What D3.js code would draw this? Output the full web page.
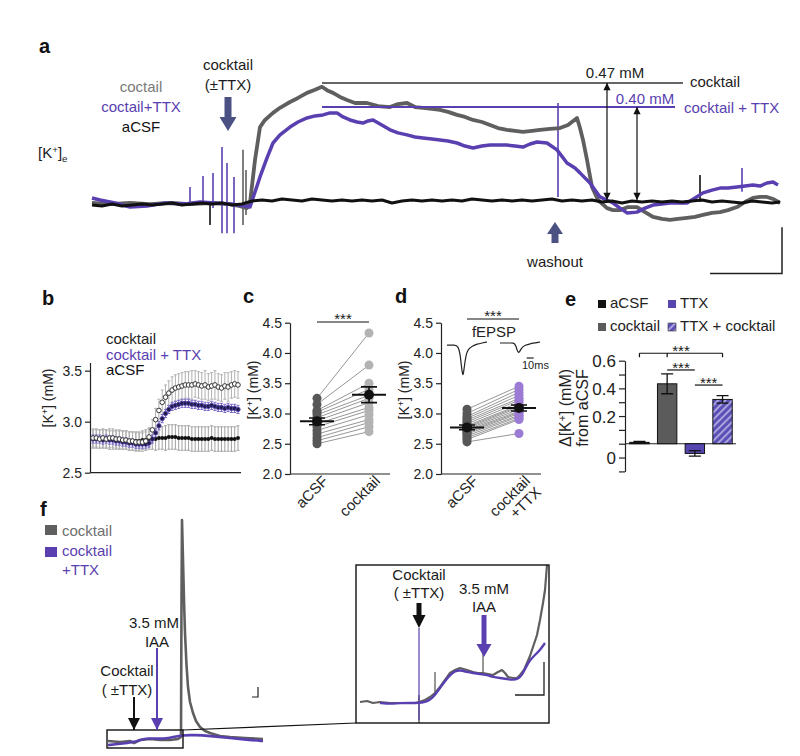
<!DOCTYPE html>
<html>
<head>
<meta charset="utf-8">
<script src="https://cdn.jsdelivr.net/npm/d3@7/dist/d3.min.js"></script>
<style>
 html,body{margin:0;padding:0;background:#fff;}
 svg{display:block;font-family:"Liberation Sans",Arial,Helvetica,sans-serif;}
</style>
</head>
<body>
<svg id="fig" width="800" height="756" viewBox="0 0 800 756"></svg>
<script>
// ================= DATA =================
// Panel a : extracellular [K+] traces (time s, Δ[K+] in mM relative to baseline)
const aTimeCocktail = [0,18,38,58,78,98,118,138,148,155,158,163,168,173,181,188,198,206,215,223,230,236,241,248,255,263,275,286,298,306,315,323,331,340,348,356,365,373,381,390,398,406,415,423,431,440,448,458,468,476,485,488,491,495,500,506,515,521,528,536,545,553,561,570,578,586,595,603,611,620,628,636,645,653,661,668,675,681,688];
const aCocktail = [-0.004,-0.008,-0.004,-0.008,-0.004,-0.008,-0.004,-0.008,-0.016,-0.024,-0.004,0.166,0.296,0.324,0.352,0.372,0.395,0.411,0.431,0.443,0.455,0.439,0.431,0.415,0.403,0.391,0.391,0.379,0.375,0.387,0.391,0.375,0.372,0.368,0.364,0.356,0.344,0.336,0.324,0.316,0.304,0.292,0.285,0.281,0.277,0.281,0.285,0.289,0.292,0.304,0.332,0.292,0.245,0.166,0.059,0.008,-0.024,-0.032,-0.032,-0.020,-0.020,-0.040,-0.059,-0.067,-0.071,-0.067,-0.063,-0.059,-0.051,-0.043,-0.040,-0.032,-0.020,0,0.016,0.020,0.020,0.012,-0.004];
const aTimeTTX = [0,8,23,38,55,73,93,108,123,138,153,158,168,175,181,188,198,206,215,223,231,238,245,251,258,265,271,276,281,288,298,306,315,323,331,340,348,356,365,373,381,390,398,406,415,423,431,438,445,455,465,475,483,488,498,508,521,528,535,545,553,561,570,578,588,595,603,611,620,628,636,645,653,661,668,675,681,686];
const aTTX = [0.016,0.008,-0.004,-0.020,-0.016,-0.004,-0.008,0,-0.004,-0.008,-0.016,-0.020,0.099,0.174,0.233,0.265,0.296,0.316,0.332,0.340,0.344,0.352,0.352,0.336,0.324,0.316,0.312,0.320,0.324,0.308,0.285,0.273,0.265,0.257,0.253,0.249,0.245,0.241,0.233,0.221,0.213,0.221,0.225,0.225,0.225,0.221,0.217,0.229,0.237,0.233,0.206,0.154,0.134,0.115,0.075,0.020,-0.004,-0.024,-0.043,-0.040,-0.024,-0.012,-0.008,-0.004,-0.004,-0.004,0.016,0.036,0.047,0.055,0.055,0.059,0.063,0.067,0.063,0.075,0.079,0.067];
const aTimeACSF = [0,10,20,30,40,50,60,70,80,90,100,110,120,130,140,150,160,170,180,190,200,210,220,230,240,250,260,270,280,290,300,310,320,330,340,350,360,370,380,390,400,410,420,430,440,450,460,470,480,490,500,510,520,530,540,550,560,570,580,590,600,610,620,630,640,650,660,670,680,688];
const aACSF = [-0.012,-0.016,-0.008,-0.016,-0.012,-0.008,-0.012,-0.008,-0.004,-0.012,-0.008,-0.004,-0.008,-0.004,-0.012,-0.008,0.004,0.008,0.004,0.012,0.008,0.004,0.012,0.008,0.004,0.008,0.004,0.008,0.004,0.008,-0.004,0.004,0.008,0.004,0.008,0.004,0.008,0.004,0.012,0.008,0.004,0.008,0.004,0.008,0.004,0.008,0.012,0.004,0.008,0.004,0.008,0,0.004,-0.004,0.004,0,0.004,0,0.004,0,0.004,0.008,0,0.004,0,-0.004,0.004,0,-0.004,0];
const aSpikeTime   = [98,111,121,130,135,142,466,650,151,154,118,608];
const aSpikeTop    = [0.059,0.103,0.115,0.217,0.154,0.099,0.391,0.134,0.206,0.126,0,0.107];
const aSpikeBottom = [-0.012,-0.012,-0.024,-0.123,-0.123,-0.123,0.02,0.04,-0.091,-0.051,-0.091,0];
const aSpikeSeries = ["ttx","ttx","ttx","ttx","ttx","ttx","ttx","ttx","cocktail","cocktail","acsf","acsf"];
const aPeakValues = [0.47, 0.375];           // reference lines (cocktail, cocktail+TTX)
const aPeakLabels = ["0.47 mM", "0.40 mM"];
const aEventTimes = [136, 463];              // cocktail (±TTX) application, washout

// Panel b : time course of [K+] (mM), mean ± SEM
const bCocktail = [2.84,2.84,2.83,2.84,2.83,2.84,2.84,2.83,2.83,2.82,2.82,2.81,2.81,2.80,2.80,2.80,2.81,2.85,2.92,3.02,3.11,3.19,3.24,3.28,3.31,3.33,3.34,3.35,3.36,3.36,3.36,3.37,3.36,3.35,3.36,3.34,3.35,3.36,3.34,3.33,3.35,3.34,3.36,3.37,3.36];
const bCocktailErr = [0.09,0.09,0.09,0.09,0.09,0.09,0.09,0.09,0.09,0.09,0.09,0.09,0.09,0.09,0.09,0.09,0.09,0.09,0.10,0.11,0.11,0.12,0.12,0.12,0.13,0.13,0.13,0.13,0.13,0.13,0.14,0.13,0.13,0.13,0.14,0.13,0.13,0.14,0.13,0.13,0.13,0.14,0.13,0.13,0.13];
const bTTX = [2.83,2.83,2.83,2.82,2.83,2.82,2.82,2.81,2.81,2.80,2.80,2.79,2.79,2.78,2.78,2.78,2.78,2.79,2.83,2.89,2.96,3.03,3.08,3.12,3.15,3.16,3.17,3.18,3.18,3.18,3.17,3.17,3.16,3.16,3.15,3.15,3.16,3.15,3.14,3.14,3.13,3.14,3.13,3.13,3.12];
const bTTXErr = [0.04,0.04,0.04,0.04,0.04,0.04,0.04,0.04,0.04,0.04,0.04,0.04,0.04,0.04,0.04,0.04,0.04,0.04,0.04,0.04,0.04,0.04,0.04,0.04,0.04,0.04,0.04,0.04,0.04,0.04,0.04,0.04,0.04,0.04,0.04,0.04,0.04,0.04,0.04,0.04,0.04,0.04,0.04,0.04,0.04];
const bACSF = [2.83,2.83,2.83,2.83,2.83,2.82,2.82,2.82,2.82,2.82,2.82,2.81,2.81,2.81,2.81,2.82,2.82,2.83,2.83,2.83,2.84,2.84,2.84,2.85,2.85,2.85,2.84,2.84,2.84,2.84,2.83,2.83,2.83,2.83,2.83,2.83,2.84,2.83,2.83,2.83,2.83,2.83,2.83,2.83,2.84];
const bACSFErr = [0.09,0.09,0.09,0.09,0.09,0.09,0.09,0.09,0.09,0.09,0.09,0.09,0.09,0.09,0.09,0.09,0.10,0.10,0.10,0.11,0.11,0.11,0.12,0.12,0.12,0.12,0.12,0.12,0.12,0.12,0.12,0.12,0.12,0.12,0.12,0.12,0.12,0.12,0.12,0.12,0.12,0.12,0.12,0.12,0.12];
const bTicks = [2.5, 3.0, 3.5];

// Panel c : paired [K+] (mM)
const cCategories = ["aCSF", "cocktail"];
const cACSF     = [3.25,3.15,3.05,3.02,2.98,2.93,2.88,2.83,2.78,2.72,2.66,2.60,2.55,2.50];
const cCocktail = [4.33,3.80,3.50,3.40,3.30,3.25,3.18,3.10,3.05,2.98,2.90,2.85,2.78,2.70];
const cMean = [2.87, 3.31];
const cSem  = [0.055, 0.13];
const cdTicks = [2.0, 2.5, 3.0, 3.5, 4.0, 4.5];

// Panel d : paired [K+] (mM) with TTX
const dCategories = ["aCSF", "cocktail+TTX"];
const dACSF = [3.07,3.00,2.95,2.92,2.89,2.86,2.83,2.80,2.78,2.76,2.74,2.72,2.70,2.68,2.66,2.63,2.60,2.57,2.53];
const dTTX  = [3.45,3.40,3.35,3.30,3.25,3.22,3.18,3.14,3.12,3.10,3.07,3.04,3.02,3.00,2.97,2.95,2.92,2.90,2.67];
const dMean = [2.77, 3.09];
const dSem  = [0.04, 0.05];
// fEPSP insets (ms, mV)
const fepspTime = [0,11,16,19,21,23,24,27,30,36,43,50,57];
const fepspACSF = [-0.06,-0.06,-0.09,-0.35,-0.79,-1.0,-0.79,-0.35,-0.18,-0.09,-0.03,0,0.03];
const fepspTTX  = [0,0,0,0,-0.03,-0.1,-0.2,-0.32,-0.15,-0.06,-0.02,0,0.03];

// Panel e : Δ[K+] from aCSF (mM)
const eCategories = ["aCSF", "cocktail", "TTX", "TTX + cocktail"];
const eMean = [0.01, 0.433, -0.07, 0.32];
const eSem  = [0.006, 0.072, 0.02, 0.027];
const eTicks = [-0.2,-0.1,0,0.1,0.2,0.3,0.4,0.5,0.6];
const eTickLabels = ["","0","","","0.2","","0.4","","0.6"];

// Panel f : long recording (arbitrary time / [K+] units)
const fTimeCocktail = [0,12,22,26,32,42,52,62,70,73,73.5,74,76,77,78.5,80,82,85,88,92,97,102,112,122,137,155];
const fCocktail = [0.1,0,0.1,-0.1,0.2,0.3,0.2,0.2,0.3,0.5,14.2,22.2,14.2,10.9,7.7,5.5,4.0,2.9,2.1,1.5,1.1,0.9,0.6,0.5,0.4,0.3];
const fTimeTTX = [0,12,26,32,40,50,62,74,87,102,122,142,155];
const fTTX = [-0.3,-0.2,0,0.2,0.4,0.3,0.4,0.7,0.7,0.6,0.4,0.2,0.1];
const fEventTimes = [26, 49];
// Panel f inset (zoomed start of recording)
const fInTimeCocktail = [4,11,17,24,34,44,51,59,63,69,74,79,84,89,94,99,104,111,117,122,127,132,137,142,146,149,152,157,161,164,168,171,174,177,181,184,187,189,191];
const fInCocktail = [0.1,0.2,0,0.1,0,0,0,0,0.1,0.3,0.6,1.0,1.6,2.3,3.0,3.3,3.5,3.3,3.1,3.0,3.0,2.9,2.8,3.1,3.3,3.0,2.6,2.5,2.5,2.8,3.3,4.0,4.7,5.6,6.8,8.3,10.0,11.3,13.8];
const fInTimeTTX = [24,34,44,54,63,69,74,79,84,89,94,99,104,111,117,124,131,137,144,151,157,162,166,170,174,179,184,189];
const fInTTX = [0,-0.1,0,0,0,0.1,0.3,0.8,1.5,2.2,2.8,3.2,3.3,3.1,3.0,2.9,2.8,2.6,2.5,2.4,2.3,2.4,2.8,3.6,4.3,4.8,5.3,6.0];
const fInEventTimes = [63, 128];

// ================= DRAWING =================
const COL = {gray:"#5f5f5f", purple:"#5a3fb0", black:"#111", arrow:"#4b5283",
             lgray:"#b3b3b3", dgray:"#575757", lpurple:"#9c7bd4", txtGray:"#7a7a7a"};
const svg = d3.select("#fig");
svg.append("rect").attr("width",800).attr("height",756).attr("fill","#fff");
const defs = svg.append("defs");
function marker(id,color){
  defs.append("marker").attr("id",id).attr("viewBox","0 0 10 10").attr("refX",10).attr("refY",5)
    .attr("markerWidth",7).attr("markerHeight",6).attr("orient","auto-start-reverse")
    .append("path").attr("d","M0,0L10,5L0,10Z").attr("fill",color);
}
marker("hk","#111"); marker("hp",COL.purple);
const pat = defs.append("pattern").attr("id","hatch").attr("patternUnits","userSpaceOnUse")
  .attr("width",5).attr("height",5).attr("patternTransform","rotate(45)");
pat.append("rect").attr("width",5).attr("height",5).attr("fill","#5b50b6");
pat.append("rect").attr("width",2).attr("height",5).attr("fill","#aaa3de");

const zip = (t,v)=>t.map((x,i)=>[x,v[i]]);
function text(g,x,y,s,o={}){
  return g.append("text").attr("x",x).attr("y",y).text(s)
    .attr("font-size",o.size||15).attr("fill",o.color||"#1a1a1a")
    .attr("text-anchor",o.anchor||"start").attr("font-weight",o.weight||"normal");
}
function kText(sel, suffix, sub){
  sel.append("tspan").text("[K");
  sel.append("tspan").attr("dy",-5).attr("font-size","0.65em").text("+");
  sel.append("tspan").attr("dy",5).text("]"+(suffix||""));
  if(sub){ sel.append("tspan").attr("dy",4).attr("font-size","0.65em").text(sub); }
  return sel;
}
function blockArrow(g,x,y0,y1,color,sw,hw,hl){
  const dir = y1>y0?1:-1, yb = y1-dir*hl, p = d3.path();
  p.moveTo(x-sw/2,y0); p.lineTo(x+sw/2,y0); p.lineTo(x+sw/2,yb); p.lineTo(x+hw/2,yb);
  p.lineTo(x,y1); p.lineTo(x-hw/2,yb); p.lineTo(x-sw/2,yb); p.closePath();
  g.append("path").attr("d",p.toString()).attr("fill",color);
}
function styleAxis(g,size){
  g.selectAll("path.domain").attr("stroke","#222").attr("stroke-width",1.2);
  g.selectAll(".tick line").attr("stroke","#222").attr("stroke-width",1.2);
  g.selectAll(".tick text").attr("font-size",size||14).attr("fill","#222")
    .attr("font-family","'Liberation Sans',Arial,sans-serif");
}
function panelLetter(x,y,s){ text(svg,x,y,s,{size:20,weight:"bold",color:"#111"}); }

// ---------- Panel a ----------
{
  const g = svg.append("g");
  const x = d3.scaleLinear().domain([0,690]).range([92,782]);
  const y = d3.scaleLinear().domain([0,0.47]).range([202,83]);
  const line = d3.line().x(d=>x(d[0])).y(d=>y(d[1]));
  panelLetter(39,53,"a");
  text(g,141,92,"coctail",{anchor:"middle",color:COL.txtGray});
  text(g,141,112,"coctail+TTX",{anchor:"middle",color:COL.purple});
  text(g,141,132,"aCSF",{anchor:"middle",color:"#111"});
  text(g,x(aEventTimes[0]),70,"cocktail",{anchor:"middle"});
  text(g,x(aEventTimes[0]),90,"(±TTX)",{anchor:"middle"});
  kText(text(g,38,158,"",{}), "", "e");
  blockArrow(g,x(aEventTimes[0]),97,131,COL.arrow,7,17,14);
  // spikes
  const sc = {ttx:COL.purple, cocktail:COL.gray, acsf:"#111"};
  aSpikeTime.forEach((t,i)=>{
    g.append("line").attr("x1",x(t)).attr("x2",x(t)).attr("y1",y(aSpikeBottom[i])).attr("y2",y(aSpikeTop[i]))
      .attr("stroke",sc[aSpikeSeries[i]]).attr("stroke-width",1.6);
  });
  g.append("path").datum(zip(aTimeCocktail,aCocktail)).attr("d",line).attr("fill","none")
    .attr("stroke",COL.gray).attr("stroke-width",3.8).attr("stroke-linejoin","round");
  g.append("path").datum(zip(aTimeTTX,aTTX)).attr("d",line).attr("fill","none")
    .attr("stroke",COL.purple).attr("stroke-width",3.5).attr("stroke-linejoin","round");
  g.append("path").datum(zip(aTimeACSF,aACSF)).attr("d",line).attr("fill","none")
    .attr("stroke","#111").attr("stroke-width",3).attr("stroke-linejoin","round");
  // peak reference lines
  g.append("line").attr("x1",x(230)).attr("x2",x(591)).attr("y1",y(aPeakValues[0])).attr("y2",y(aPeakValues[0]))
    .attr("stroke","#666").attr("stroke-width",2.2);
  g.append("line").attr("x1",x(230)).attr("x2",x(583)).attr("y1",y(aPeakValues[1])).attr("y2",y(aPeakValues[1]))
    .attr("stroke",COL.purple).attr("stroke-width",2);
  text(g,x(523),78,aPeakLabels[0],{anchor:"middle",color:"#222"});
  text(g,x(598),87,"cocktail",{color:"#222"});
  text(g,x(553),104,aPeakLabels[1],{anchor:"middle",color:COL.purple});
  text(g,x(592),113,"cocktail + TTX",{color:COL.purple});
  // double arrows
  [[515,aPeakValues[0]],[545,aPeakValues[1]]].forEach(([t,v])=>{
    g.append("line").attr("x1",x(t)).attr("x2",x(t)).attr("y1",y(v)).attr("y2",y(0.008))
      .attr("stroke","#111").attr("stroke-width",1.2)
      .attr("marker-start","url(#hk)").attr("marker-end","url(#hk)");
  });
  // washout
  blockArrow(g,x(aEventTimes[1]),243,222,COL.arrow,7,16,12);
  text(g,x(aEventTimes[1]),267,"washout",{anchor:"middle"});
  // scale bar
  g.append("path").attr("d",`M${x(618)},${y(-0.282)}H${x(690)}V${y(-0.1)}`)
    .attr("fill","none").attr("stroke","#222").attr("stroke-width",1.5);
}

// ---------- Panel b ----------
{
  const g = svg.append("g");
  const x = d3.scaleLinear().domain([0,44]).range([93,238]);
  const y = d3.scaleLinear().domain([2.5,3.58]).range([472.7,362.5]);
  panelLetter(42,305,"b");
  text(g,106,344,"cocktail",{color:"#222"});
  text(g,106,359.5,"cocktail + TTX",{color:COL.purple});
  text(g,106,375,"aCSF",{color:"#111"});
  const ax = g.append("g").attr("transform","translate(90,0)")
    .call(d3.axisLeft(y).tickValues(bTicks).tickFormat(d3.format(".1f")).tickSize(5).tickSizeOuter(0));
  styleAxis(ax,14);
  g.append("line").attr("x1",90).attr("x2",241).attr("y1",y(2.5)).attr("y2",y(2.5)).attr("stroke","#222").attr("stroke-width",1.2);
  kText(g.append("text").attr("transform","translate(53,398) rotate(-90)").attr("text-anchor","middle")
    .attr("font-size",14).attr("fill","#222"), " (mM)");
  function errs(vals,err,color){
    vals.forEach((v,i)=>{
      const xi=x(i);
      g.append("path").attr("d",`M${xi},${y(v-err[i])}V${y(v+err[i])}M${xi-1.5},${y(v+err[i])}H${xi+1.5}M${xi-1.5},${y(v-err[i])}H${xi+1.5}`)
        .attr("stroke",color).attr("stroke-width",1).attr("fill","none");
    });
  }
  errs(bACSF,bACSFErr,"#a0a0a0");
  errs(bCocktail,bCocktailErr,"#b0b0b0");
  errs(bTTX,bTTXErr,"#7b68c8");
  g.selectAll(null).data(bACSF).enter().append("circle").attr("cx",(d,i)=>x(i)).attr("cy",d=>y(d))
    .attr("r",2).attr("fill","#111");
  g.selectAll(null).data(bTTX).enter().append("circle").attr("cx",(d,i)=>x(i)).attr("cy",d=>y(d))
    .attr("r",2.2).attr("fill","#1e1c4e").attr("stroke","#5a48b0").attr("stroke-width",0.8);
  g.selectAll(null).data(bCocktail).enter().append("circle").attr("cx",(d,i)=>x(i)).attr("cy",d=>y(d))
    .attr("r",2.3).attr("fill","#fff").attr("stroke","#333").attr("stroke-width",1);
}

// ---------- Panels c & d ----------
const cdY = d3.scaleLinear().domain([2.0,4.5]).range([474,322.7]);
function pairedPanel(o){
  const g = svg.append("g");
  const x = d3.scalePoint().domain(o.cats).range(o.xr);
  const ax = g.append("g").attr("transform",`translate(${o.axisX},0)`)
    .call(d3.axisLeft(cdY).tickValues(cdTicks).tickFormat(d3.format(".1f")).tickSize(5).tickSizeOuter(0));
  styleAxis(ax,14);
  g.append("line").attr("x1",o.axisX).attr("x2",o.axisX+100).attr("y1",cdY(2)).attr("y2",cdY(2)).attr("stroke","#222").attr("stroke-width",1.2);
  kText(g.append("text").attr("transform",`translate(${o.axisX-32},390) rotate(-90)`).attr("text-anchor","middle")
    .attr("font-size",14).attr("fill","#222"), " (mM)");
  const x0=x(o.cats[0]), x1=x(o.cats[1]);
  o.a.forEach((v,i)=>{
    g.append("line").attr("x1",x0).attr("x2",x1).attr("y1",cdY(v)).attr("y2",cdY(o.b[i]))
      .attr("stroke","#8a8a8a").attr("stroke-width",0.9);
  });
  g.selectAll(null).data(o.a).enter().append("circle").attr("cx",x0).attr("cy",d=>cdY(d)).attr("r",4.5).attr("fill",COL.dgray);
  g.selectAll(null).data(o.b).enter().append("circle").attr("cx",x1).attr("cy",d=>cdY(d)).attr("r",4.5).attr("fill",o.bColor);
  o.mean.forEach((m,i)=>{
    const cx = x(o.cats[i]);
    g.append("line").attr("x1",cx-17).attr("x2",cx+17).attr("y1",cdY(m)).attr("y2",cdY(m)).attr("stroke","#111").attr("stroke-width",2);
    g.append("path").attr("d",`M${cx},${cdY(m-o.sem[i])}V${cdY(m+o.sem[i])}M${cx-8},${cdY(m-o.sem[i])}H${cx+8}M${cx-8},${cdY(m+o.sem[i])}H${cx+8}`)
      .attr("stroke","#111").attr("stroke-width",1.6).attr("fill","none");
    g.append("circle").attr("cx",cx).attr("cy",cdY(m)).attr("r",5).attr("fill","#111");
  });
  // significance
  g.append("line").attr("x1",x0).attr("x2",x1).attr("y1",o.sigY).attr("y2",o.sigY).attr("stroke","#111").attr("stroke-width",1.2);
  text(g,(x0+x1)/2,o.sigY+2,"***",{anchor:"middle",size:15});
  // x labels
  o.labels.forEach((lab,i)=>{
    const cx = x(o.cats[i]);
    const t = g.append("text").attr("transform",`translate(${cx+12},482) rotate(-45)`).attr("text-anchor","end")
      .attr("font-size",15).attr("fill","#222");
    lab.forEach((s,k)=>t.append("tspan").attr("x",0).attr("dy",k===0?0:"1.05em").text(s));
  });
  return {g,x};
}
panelLetter(243,303,"c");
pairedPanel({cats:cCategories, xr:[317,369], axisX:290, a:cACSF, b:cCocktail, bColor:COL.lgray,
             mean:cMean, sem:cSem, sigY:322, labels:[["aCSF"],["cocktail"]]});
panelLetter(395,303,"d");
{
  const r = pairedPanel({cats:dCategories, xr:[467,519], axisX:441, a:dACSF, b:dTTX, bColor:COL.lpurple,
             mean:dMean, sem:dSem, sigY:319, labels:[["aCSF"],["cocktail","+TTX"]]});
  const g = r.g;
  text(g,494,337,"fEPSP",{anchor:"middle",size:15,color:"#222"});
  const fy = d3.scaleLinear().domain([-1,0]).range([377,343]);
  const fx1 = d3.scaleLinear().domain([0,57]).range([447,487]);
  const fx2 = d3.scaleLinear().domain([0,57]).range([500,540]);
  g.append("path").datum(zip(fepspTime,fepspACSF)).attr("d",d3.line().x(d=>fx1(d[0])).y(d=>fy(d[1])).curve(d3.curveBasis))
    .attr("fill","none").attr("stroke","#222").attr("stroke-width",1.2);
  g.append("path").datum(zip(fepspTime,fepspTTX)).attr("d",d3.line().x(d=>fx2(d[0])).y(d=>fy(d[1])).curve(d3.curveBasis))
    .attr("fill","none").attr("stroke","#222").attr("stroke-width",1.2);
  g.append("line").attr("x1",fx2(38)).attr("x2",fx2(48)).attr("y1",358).attr("y2",358).attr("stroke","#222").attr("stroke-width",1.2);
  text(g,522,369,"10ms",{size:11,color:"#222"});
}

// ---------- Panel e ----------
{
  const g = svg.append("g");
  panelLetter(565,306,"e");
  const y = d3.scaleLinear().domain([-0.2,0.6]).range([471.4,360.7]);
  const x = d3.scaleBand().domain(eCategories).range([627,735]).paddingInner(0.3).paddingOuter(0.1);
  const fills = ["#111","#5b5b5b","#5546b0","url(#hatch)"];
  // legend
  const leg = [[598,300,0],[668,300,2],[598,323,1],[668,323,3]];
  leg.forEach(([lx,ly,k])=>{
    g.append("rect").attr("x",lx).attr("y",ly).attr("width",8).attr("height",8).attr("fill",fills[k])
      .attr("stroke",k===3?"#333":"none").attr("stroke-width",0.6);
    text(g,lx+12,ly+8,eCategories[k],{size:15,color:"#222"});
  });
  const ax = g.append("g").attr("transform","translate(625,0)")
    .call(d3.axisLeft(y).tickValues(eTicks).tickFormat((d,i)=>eTickLabels[i]).tickSize(6).tickSizeOuter(0));
  styleAxis(ax,17);
  ax.selectAll(".tick text").attr("dy","0.36em");
  g.append("line").attr("x1",625).attr("x2",736).attr("y1",y(0)).attr("y2",y(0)).attr("stroke","#222").attr("stroke-width",1.2);
  eMean.forEach((m,i)=>{
    const bx=x(eCategories[i]), bw=x.bandwidth();
    g.append("rect").attr("x",bx).attr("width",bw).attr("y",y(Math.max(m,0))).attr("height",Math.abs(y(m)-y(0)))
      .attr("fill",fills[i]).attr("stroke","#111").attr("stroke-width",1);
    const cx=bx+bw/2, lo=y(m-eSem[i]), hi=y(m+eSem[i]);
    g.append("path").attr("d",`M${cx},${lo}V${hi}M${cx-6},${lo}H${cx+6}M${cx-6},${hi}H${cx+6}`)
      .attr("stroke","#111").attr("stroke-width",1.3).attr("fill","none");
  });
  const cx = k=>x(eCategories[k])+x.bandwidth()/2;
  const sig = [[0,3,0.654,true],[1,2,0.533,false],[2,3,0.424,false]];
  sig.forEach(([a,b,v,ticks])=>{
    const yy=y(v);
    let d=`M${cx(a)},${yy}H${cx(b)}`;
    if(ticks) d+=`M${cx(a)},${yy}V${yy+4}M${cx(b)},${yy}V${yy+4}M${cx(1)},${yy}V${yy+4}`;
    g.append("path").attr("d",d).attr("stroke","#111").attr("stroke-width",1.2).attr("fill","none");
    text(g,(cx(a)+cx(b))/2,yy+3,"***",{anchor:"middle",size:15});
  });
  const yl = g.append("text").attr("transform","translate(571,408) rotate(-90)").attr("text-anchor","middle")
    .attr("font-size",16).attr("fill","#222");
  yl.append("tspan").text("Δ");
  kText(yl," (mM)");
  g.append("text").attr("transform","translate(588,408) rotate(-90)").attr("text-anchor","middle")
    .attr("font-size",16).attr("fill","#222").text("from aCSF");
}

// ---------- Panel f ----------
{
  const g = svg.append("g");
  panelLetter(40,516,"f");
  g.append("rect").attr("x",45).attr("y",525).attr("width",12).attr("height",10).attr("fill",COL.gray);
  text(g,62,536,"cocktail",{color:"#6e6e6e"});
  g.append("rect").attr("x",45).attr("y",547).attr("width",12).attr("height",10).attr("fill",COL.purple);
  text(g,62,556,"cocktail",{color:COL.purple});
  text(g,62,575,"+TTX",{color:COL.purple});
  const x = d3.scaleLinear().domain([0,155]).range([108,263]);
  const y = d3.scaleLinear().domain([0,22.2]).range([742,520]);
  const line = d3.line().x(d=>x(d[0])).y(d=>y(d[1]));
  g.append("path").datum(zip(fTimeCocktail,fCocktail)).attr("d",line).attr("fill","none")
    .attr("stroke",COL.gray).attr("stroke-width",2.6).attr("stroke-linejoin","round");
  g.append("path").datum(zip(fTimeTTX,fTTX)).attr("d",line.curve(d3.curveBasis)).attr("fill","none")
    .attr("stroke",COL.purple).attr("stroke-width",2.6);
  // zoom box
  g.append("rect").attr("x",x(-1)).attr("y",y(1.2)).attr("width",x(75)-x(-1)).attr("height",y(-0.6)-y(1.2))
    .attr("fill","none").attr("stroke","#111").attr("stroke-width",1.4);
  // annotations
  g.append("line").attr("x1",x(fEventTimes[0])).attr("x2",x(fEventTimes[0])).attr("y1",697).attr("y2",y(1.2))
    .attr("stroke","#111").attr("stroke-width",2).attr("marker-end","url(#hk)");
  g.append("line").attr("x1",x(fEventTimes[1])).attr("x2",x(fEventTimes[1])).attr("y1",648).attr("y2",y(1.2))
    .attr("stroke",COL.purple).attr("stroke-width",2).attr("marker-end","url(#hp)");
  text(g,127,676,"Cocktail",{anchor:"middle"});
  text(g,127,695,"( ±TTX)",{anchor:"middle"});
  text(g,154,628,"3.5 mM",{anchor:"middle"});
  text(g,157,647,"IAA",{anchor:"middle"});
  g.append("path").attr("d",`M${x(144)},${y(4.5)}H${x(150)}V${y(5.5)}`).attr("fill","none").attr("stroke","#222").attr("stroke-width",1.2);

  // inset
  const ix = d3.scaleLinear().domain([0,193]).range([356,549]);
  const iy = d3.scaleLinear().domain([0,13.8]).range([703,565]);
  g.append("line").attr("x1",x(75)).attr("y1",y(1.2)).attr("x2",ix(0)).attr("y2",iy(-2.0))
    .attr("stroke","#111").attr("stroke-width",1.2);
  const il = d3.line().x(d=>ix(d[0])).y(d=>iy(d[1]));
  g.append("line").attr("x1",ix(fInEventTimes[0])).attr("x2",ix(fInEventTimes[0])).attr("y1",iy(-2.0)).attr("y2",iy(0.8)).attr("stroke",COL.gray).attr("stroke-width",1.5);
  g.append("line").attr("x1",ix(79)).attr("x2",ix(79)).attr("y1",iy(1.0)).attr("y2",iy(3.1)).attr("stroke",COL.gray).attr("stroke-width",1.3);
  g.append("line").attr("x1",ix(127)).attr("x2",ix(127)).attr("y1",iy(3.0)).attr("y2",iy(5.0)).attr("stroke",COL.gray).attr("stroke-width",1.3);
  g.append("path").datum(zip(fInTimeCocktail,fInCocktail)).attr("d",il).attr("fill","none")
    .attr("stroke",COL.gray).attr("stroke-width",2.2).attr("stroke-linejoin","round");
  g.append("path").datum(zip(fInTimeTTX,fInTTX)).attr("d",il.curve(d3.curveBasis)).attr("fill","none")
    .attr("stroke",COL.purple).attr("stroke-width",2.4);
  g.append("line").attr("x1",ix(fInEventTimes[0])).attr("x2",ix(fInEventTimes[0])).attr("y1",iy(7.5)).attr("y2",iy(-1.7))
    .attr("stroke",COL.purple).attr("stroke-width",1.2);
  g.append("rect").attr("x",ix(0)).attr("y",iy(13.8)).attr("width",ix(193)-ix(0)).attr("height",iy(-2.0)-iy(13.8))
    .attr("fill","none").attr("stroke","#111").attr("stroke-width",1.4);
  text(g,ix(fInEventTimes[0]),580,"Cocktail",{anchor:"middle"});
  text(g,ix(fInEventTimes[0]),598,"( ±TTX)",{anchor:"middle"});
  blockArrow(g,ix(fInEventTimes[0]),603,628,"#111",5,13,13);
  text(g,ix(fInEventTimes[1]),594,"3.5 mM",{anchor:"middle"});
  text(g,ix(fInEventTimes[1]),612,"IAA",{anchor:"middle"});
  blockArrow(g,ix(fInEventTimes[1]),615,657,COL.purple,5,15,13);
  g.append("path").attr("d",`M${ix(159)},${iy(0.8)}H${ix(188)}V${iy(4.1)}`).attr("fill","none").attr("stroke","#222").attr("stroke-width",1.3);
}
</script>
</body>
</html>
